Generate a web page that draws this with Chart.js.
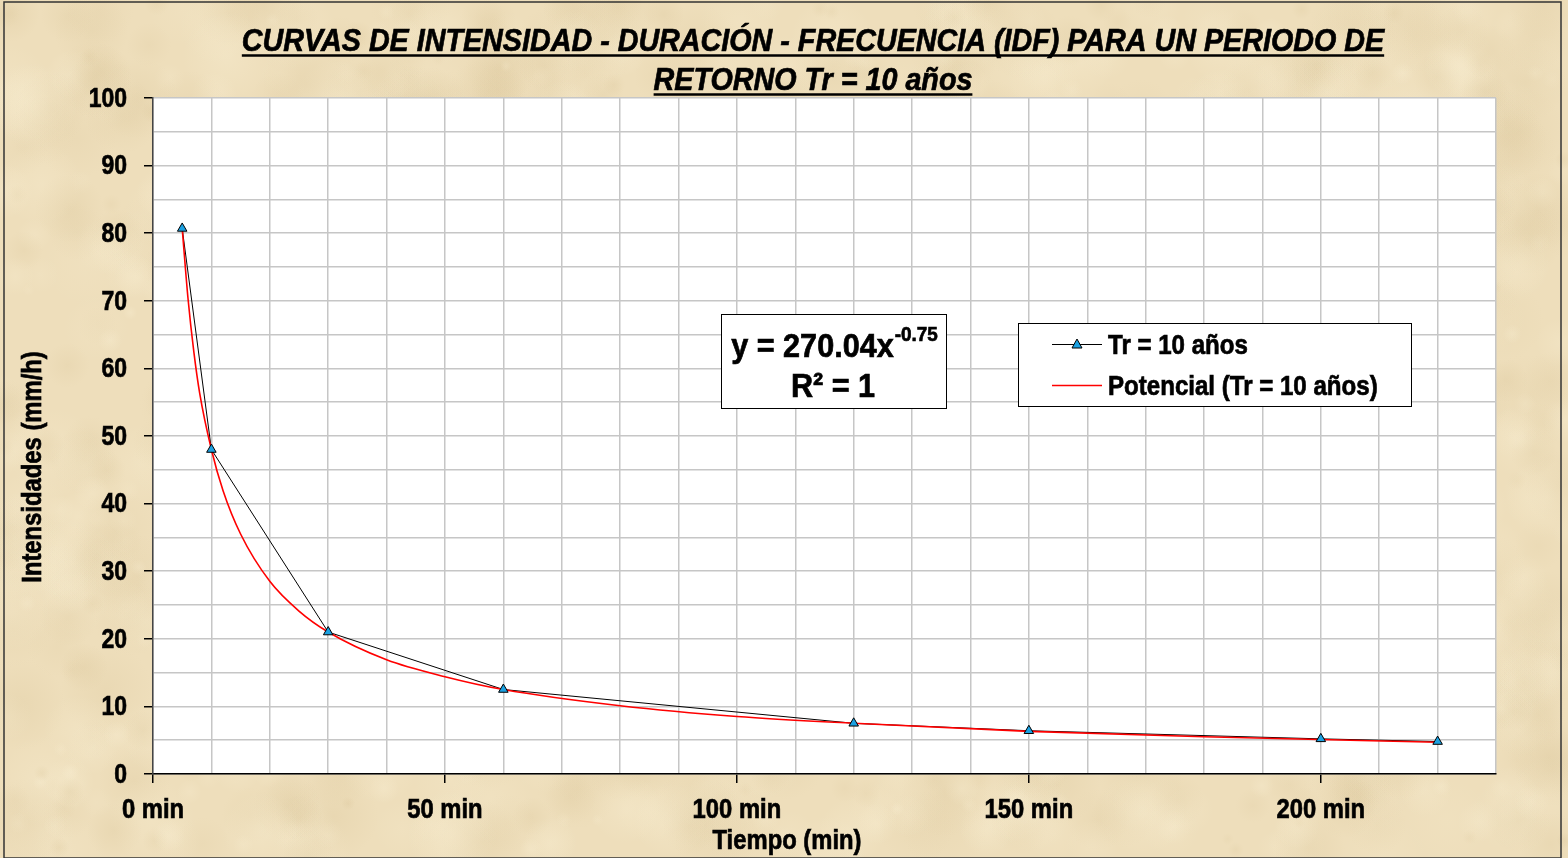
<!DOCTYPE html>
<html>
<head>
<meta charset="utf-8">
<script src="https://cdn.jsdelivr.net/npm/chart.js@4.4.1/dist/chart.umd.min.js"></script>
<style>
  html, body { margin: 0; padding: 0; background: #efe0bd; }
  canvas { display: block; }
</style>
</head>
<body>
<canvas id="idfChart" width="1568" height="858"></canvas>
<script>
// Data
const duraciones = [5, 10, 30, 60, 120, 150, 200, 220];          // min
const intensidades = [80.7, 48.0, 21.0, 12.5, 7.5, 6.4, 5.2, 4.8]; // mm/h

// red power trend line
const tendX = [5, 6, 7, 8, 10, 12, 15, 20, 25, 30, 40, 50, 60, 80, 100, 120, 150, 180, 220];
const tendY = [80.7, 70.3, 62.4, 56.3, 48.0, 41.9, 35.5, 28.5, 24.1, 21.0, 16.9, 14.4, 12.5, 10.1, 8.5, 7.5, 6.3, 5.5, 4.7];

const tituloLineas = ['CURVAS DE INTENSIDAD - DURACIÓN - FRECUENCIA (IDF) PARA UN PERIODO DE', 'RETORNO Tr = 10 años'];
const serieNombre = 'Tr = 10 años';
const tendNombre = 'Potencial (Tr = 10 años)';
const ejeX = 'Tiempo (min)';
const ejeY = 'Intensidades (mm/h)';

// no narrow font installed, so text is squeezed by hand
const FONT = '"Liberation Sans", Arial, sans-serif';
const AZUL = '#1ba1e2';

const puntos = duraciones.map((d, i) => ({ x: d, y: intensidades[i] }));
const tendencia = tendX.map((d, i) => ({ x: d, y: tendY[i] }));

// simple seeded generator, only for the paper texture
let semilla = 12345;
function rnd() {
    semilla = (semilla * 1103515245 + 12345) % 2147483648;
    return semilla / 2147483648;
}

function texto(ctx, t, x, y, font, sx, align) {
    ctx.save();
    ctx.font = font;
    ctx.translate(x, y);
    ctx.scale(sx, 1);
    ctx.textAlign = align || 'center';
    ctx.fillText(t, 0, 0);
    ctx.lineWidth = 0.7;
    ctx.strokeStyle = '#000';
    ctx.strokeText(t, 0, 0);
    const w = ctx.measureText(t).width * sx;
    ctx.restore();
    return w;
}

const fondoPlugin = {
    id: 'fondo',
    beforeDraw(chart) {
        const ctx = chart.ctx;
        const w = chart.width, h = chart.height;
        ctx.save();
        ctx.fillStyle = '#eedebb';
        ctx.fillRect(0, 0, w, h);
        semilla = 12345;
        for (let i = 0; i < 1400; i++) {
            const x = rnd() * w, y = rnd() * h, r = 6 + rnd() * 40;
            const claro = rnd() > 0.5;
            const g = ctx.createRadialGradient(x, y, 0, x, y, r);
            const a = 0.1 + rnd() * 0.18;
            const c = claro ? '251,242,216,' : '216,195,150,';
            g.addColorStop(0, 'rgba(' + c + a + ')');
            g.addColorStop(1, 'rgba(' + c + '0)');
            ctx.fillStyle = g;
            ctx.fillRect(x - r, y - r, 2 * r, 2 * r);
        }
        const a = chart.chartArea;
        ctx.fillStyle = '#ffffff';
        ctx.fillRect(a.left, a.top, a.right - a.left, a.bottom - a.top);
        ctx.restore();
    },
    afterDraw(chart) {
        const ctx = chart.ctx;
        ctx.save();
        ctx.fillStyle = '#000';
        ctx.strokeStyle = '#000';
        ctx.textBaseline = 'alphabetic';

        // title, underlined
        const ys = [51, 90];
        tituloLineas.forEach((t, i) => {
            const tw = texto(ctx, t, 813, ys[i], 'italic bold 32px ' + FONT, 0.897);
            ctx.lineWidth = 2.5;
            ctx.beginPath();
            ctx.moveTo(813 - tw / 2, ys[i] + 4.5);
            ctx.lineTo(813 + tw / 2, ys[i] + 4.5);
            ctx.stroke();
        });

        // tick labels
        ctx.textBaseline = 'middle';
        const sx = chart.scales.x, sy = chart.scales.y;
        sx.ticks.forEach(t => {
            if (t.value % 50 === 0) {
                texto(ctx, t.value + ' min', sx.getPixelForValue(t.value), 810, 'bold 28px ' + FONT, 0.85);
            }
        });
        sy.ticks.forEach(t => {
            if (t.value % 10 === 0) {
                texto(ctx, String(t.value), 127, sy.getPixelForValue(t.value) + 1, 'bold 28px ' + FONT, 0.82, 'right');
            }
        });

        // axis titles
        texto(ctx, ejeX, 787, 841, 'bold 28px ' + FONT, 0.85);
        ctx.save();
        ctx.translate(33, 467);
        ctx.rotate(-Math.PI / 2);
        texto(ctx, ejeY, 0, 0, 'bold 28px ' + FONT, 0.85);
        ctx.restore();

        // equation box
        ctx.fillStyle = '#fff';
        ctx.fillRect(721, 314, 225, 94);
        ctx.lineWidth = 1;
        ctx.strokeStyle = '#000';
        ctx.strokeRect(721.5, 314.5, 225, 94);
        ctx.fillStyle = '#000';
        ctx.textBaseline = 'alphabetic';
        const eqFont = 'bold 34px ' + FONT;
        const supFont = 'bold 21px ' + FONT;
        ctx.font = eqFont;
        const eqW = ctx.measureText('y = 270.04x').width * 0.9;
        ctx.font = supFont;
        const supW = ctx.measureText('-0.75').width * 0.9;
        const x0 = 834 - (eqW + supW) / 2;
        texto(ctx, 'y = 270.04x', x0, 357, eqFont, 0.9, 'left');
        texto(ctx, '-0.75', x0 + eqW + 1, 341, supFont, 0.9, 'left');
        texto(ctx, 'R² = 1', 833, 397, eqFont, 0.9);

        // legend box
        ctx.fillStyle = '#fff';
        ctx.fillRect(1018, 323, 393, 83);
        ctx.lineWidth = 1;
        ctx.strokeStyle = '#000';
        ctx.strokeRect(1018.5, 323.5, 393, 83);
        ctx.beginPath();
        ctx.moveTo(1052, 344.5);
        ctx.lineTo(1102, 344.5);
        ctx.stroke();
        ctx.fillStyle = AZUL;
        ctx.beginPath();
        ctx.moveTo(1077, 339);
        ctx.lineTo(1082, 348);
        ctx.lineTo(1072, 348);
        ctx.closePath();
        ctx.fill();
        ctx.stroke();
        ctx.strokeStyle = '#ff0000';
        ctx.lineWidth = 1.5;
        ctx.beginPath();
        ctx.moveTo(1052, 385.5);
        ctx.lineTo(1102, 385.5);
        ctx.stroke();
        ctx.fillStyle = '#000';
        ctx.textBaseline = 'middle';
        texto(ctx, serieNombre, 1108, 346, 'bold 28px ' + FONT, 0.86, 'left');
        texto(ctx, tendNombre, 1108, 387, 'bold 28px ' + FONT, 0.86, 'left');

        // outer frame
        ctx.strokeStyle = '#333';
        ctx.lineWidth = 1.5;
        ctx.strokeRect(4, 2, 1557, 856);
        ctx.restore();
    }
};

const ctx = document.getElementById('idfChart').getContext('2d');

new Chart(ctx, {
    type: 'scatter',
    data: {
        datasets: [{
            label: serieNombre,
            data: puntos,
            showLine: true,
            borderColor: '#000',
            borderWidth: 1,
            pointRadius: 0,
            order: 3
        }, {
            label: tendNombre,
            data: tendencia,
            showLine: true,
            cubicInterpolationMode: 'monotone',
            borderColor: '#ff0000',
            borderWidth: 1.6,
            pointRadius: 0,
            order: 2
        }, {
            label: serieNombre,
            data: puntos,
            showLine: false,
            pointStyle: 'triangle',
            pointRadius: 5.5,
            pointBackgroundColor: AZUL,
            pointBorderColor: '#000',
            pointBorderWidth: 1,
            order: 1
        }]
    },
    options: {
        responsive: false,
        animation: false,
        layout: { padding: { top: 98, right: 72, left: 0, bottom: 0 } },
        plugins: {
            legend: { display: false },
            title: { display: false },
            tooltip: { enabled: false }
        },
        scales: {
            x: {
                type: 'linear',
                min: 0,
                max: 230,
                afterFit: s => { s.height = 84; },
                border: { color: '#000', width: 1.5 },
                grid: {
                    color: '#c6c6c6',
                    lineWidth: 1.5,
                    tickLength: 9,
                    tickColor: c => (c.tick && c.tick.value % 50 === 0) ? '#000' : 'rgba(0,0,0,0)',
                    tickWidth: 1.5
                },
                ticks: {
                    stepSize: 10,
                    autoSkip: false,
                    maxRotation: 0,
                    color: 'rgba(0,0,0,0)',
                    font: { family: FONT, size: 28, weight: 'bold' },
                    callback: v => v % 50 === 0 ? v + ' min' : ''
                }
            },
            y: {
                min: 0,
                max: 100,
                afterFit: s => { s.width = 153; },
                border: { color: '#444', width: 1.5 },
                grid: {
                    color: '#c6c6c6',
                    lineWidth: 1.5,
                    tickLength: 9,
                    tickColor: c => (c.tick && c.tick.value % 10 === 0) ? '#000' : 'rgba(0,0,0,0)',
                    tickWidth: 1.5
                },
                ticks: {
                    stepSize: 5,
                    autoSkip: false,
                    color: 'rgba(0,0,0,0)',
                    font: { family: FONT, size: 28, weight: 'bold' },
                    callback: v => v % 10 === 0 ? v : ''
                }
            }
        }
    },
    plugins: [fondoPlugin]
});
</script>
</body>
</html>
